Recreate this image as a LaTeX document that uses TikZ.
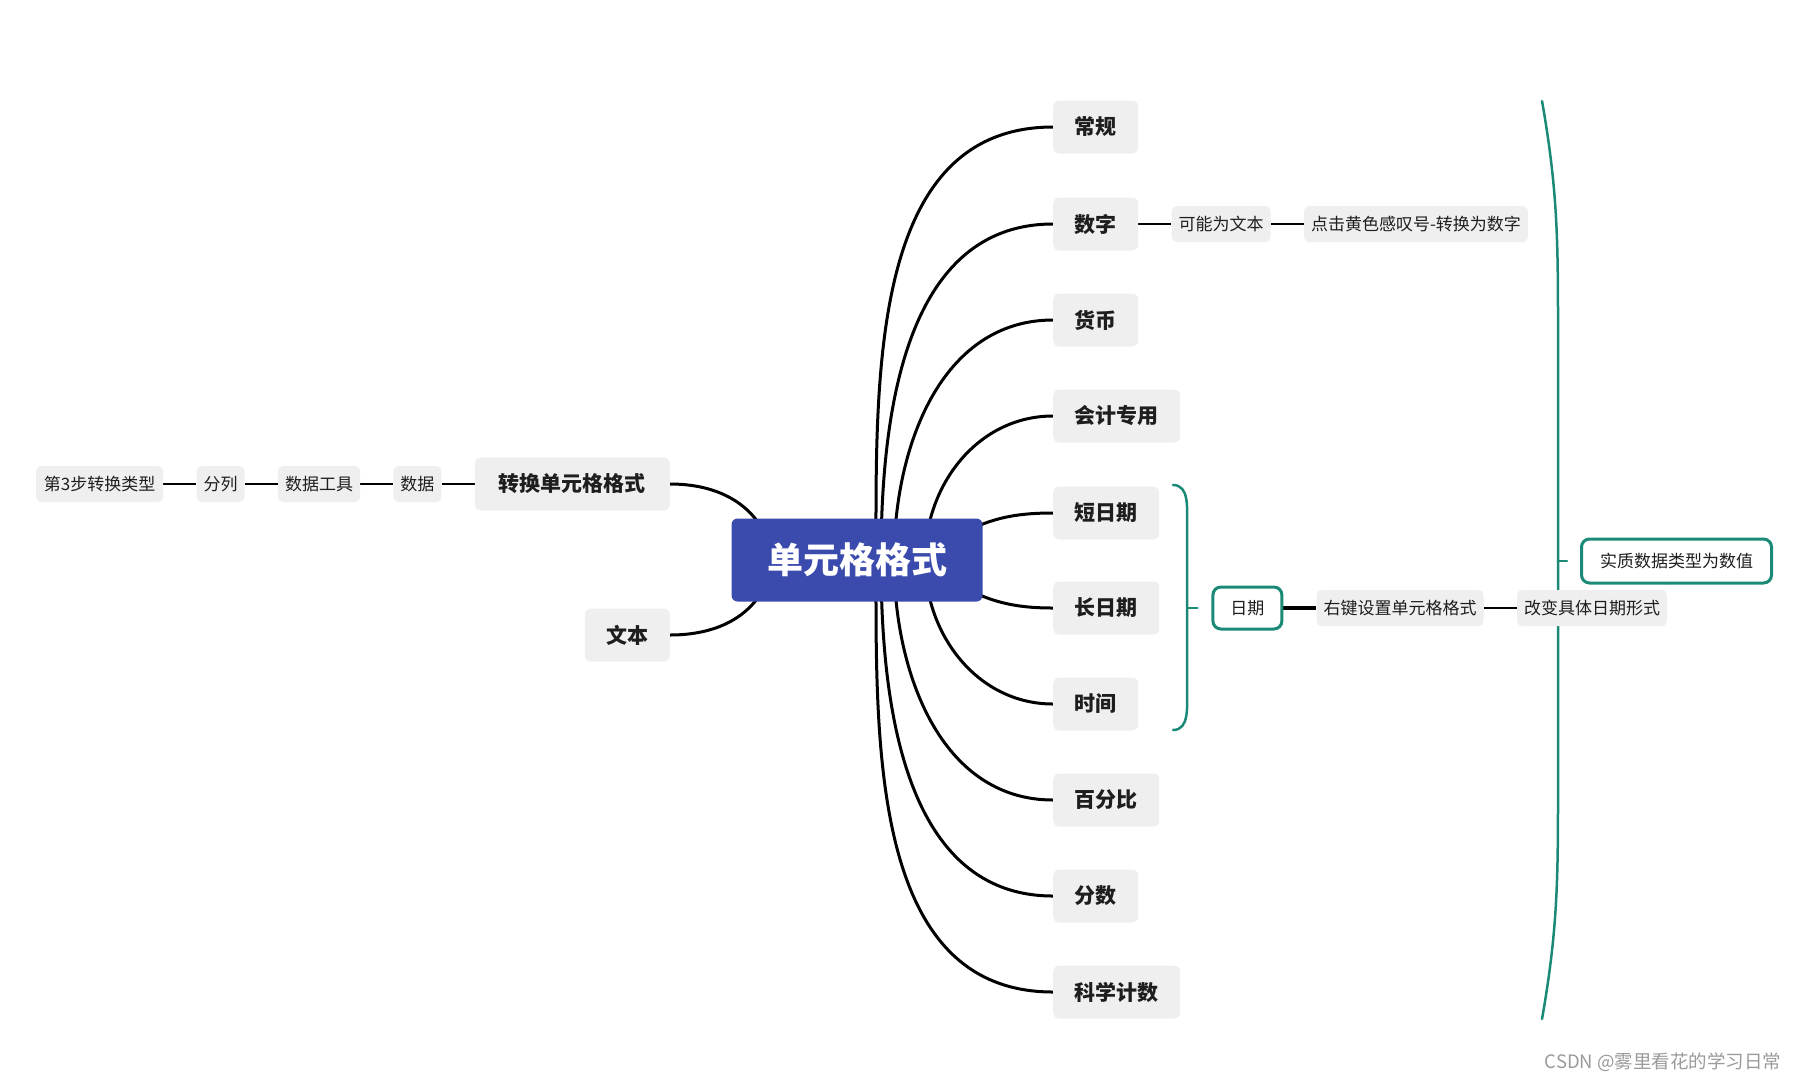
\documentclass[tikz,border=0pt]{standalone}
\usepackage{fontspec}
\setmainfont{Noto Sans CJK SC}
\usetikzlibrary{positioning,backgrounds}
\definecolor{rootblue}{HTML}{3A4AAD}
\definecolor{boxgray}{HTML}{EFEFF0}
\definecolor{inkdark}{HTML}{1E1E1E}
\definecolor{summteal}{HTML}{1A8A77}
\definecolor{markgray}{HTML}{9A9A9A}

\begin{document}
\begin{tikzpicture}[
  x=1pt, y=-1pt,
  node distance=33pt,
  every node/.style={align=center, text=inkdark},
  root/.style={fill=rootblue, rounded corners=6pt, minimum width=251pt, minimum height=83pt, font=\fontsize{36}{40}\selectfont\bfseries, text=white},
  topic/.style={fill=boxgray, rounded corners=6pt, minimum height=53pt, inner xsep=21.5pt, font=\fontsize{21}{24}\selectfont\bfseries},
  sub/.style={fill=boxgray, rounded corners=5pt, minimum height=36pt, inner xsep=7pt, font=\fontsize{17}{20}\selectfont},
  summ/.style={draw=summteal, line width=3pt, fill=white, rounded corners=8pt, minimum height=42pt, font=\fontsize{17}{20}\selectfont},
  branch/.style={line width=3pt, draw=black},
  link/.style={line width=2.5pt, draw=black},
  brace/.style={line width=2.5pt, draw=summteal, line cap=round}
]
\useasboundingbox (0,0) rectangle (1798,1080);
\node[root] (root) at (857,560) {单元格格式};
% right side
\node[topic, anchor=west] (gen) at (1053,127) {常规};
\node[topic, anchor=west] (num) at (1053,224) {数字};
\node[topic, anchor=west] (cur) at (1053,320) {货币};
\node[topic, anchor=west] (acc) at (1053,416) {会计专用};
\node[topic, anchor=west] (sdate) at (1053,513) {短日期};
\node[topic, anchor=west] (ldate) at (1053,608) {长日期};
\node[topic, anchor=west] (time) at (1053,704) {时间};
\node[topic, anchor=west] (pct) at (1053,800) {百分比};
\node[topic, anchor=west] (frac) at (1053,896) {分数};
\node[topic, anchor=west] (sci) at (1053,992) {科学计数};
\node[sub, right=of num] (maytxt) {可能为文本};
\node[sub, right=of maytxt, minimum width=223pt] (click) {点击黄色感叹号-转换为数字};
\node[summ, minimum width=69pt, right=52pt of ldate] (date) {日期};
\node[sub, right=of date] (rclick) {右键设置单元格格式};
\node[sub, right=of rclick] (change) {改变具体日期形式};
\node[summ, minimum width=190pt, minimum height=44pt, anchor=west] (essence) at (1580,561) {实质数据类型为数值};
% left side
\node[topic, anchor=east, minimum width=195pt] (conv) at (670,484) {转换单元格格式};
\node[topic, anchor=east] (txt) at (670,635) {文本};
\node[sub, left=of conv] (data) {数据};
\node[sub, left=of data] (tool) {数据工具};
\node[sub, left=of tool] (split) {分列};
\node[sub, left=of split, minimum width=127pt] (stepthree) {第3步转换类型};
\node[anchor=east, text=markgray, font=\fontsize{18.5}{22}\selectfont] (mark) at (1785,1062) {CSDN @雾里看花的学习日常};

\coordinate (smallmid) at (1187,608);
\coordinate (bigmid) at (1558,561);

\begin{scope}[on background layer]
% curves out of the root
\draw[branch] ([shift={(19,0)}]root.center) to[out=90,in=180] (gen.west);
\draw[branch] ([shift={(24,0)}]root.center) to[out=90,in=180] (num.west);
\draw[branch] ([shift={(37,0)}]root.center) to[out=90,in=180] (cur.west);
\draw[branch] ([shift={(68,0)}]root.center) to[out=90,in=180] (acc.west);
\draw[branch] ([shift={(93,-20)}]root.center) to[out=30,in=180] (sdate.west);
\draw[branch] ([shift={(93,20)}]root.center) to[out=-30,in=180] (ldate.west);
\draw[branch] ([shift={(68,0)}]root.center) to[out=-90,in=180] (time.west);
\draw[branch] ([shift={(37,0)}]root.center) to[out=-90,in=180] (pct.west);
\draw[branch] ([shift={(24,0)}]root.center) to[out=-90,in=180] (frac.west);
\draw[branch] ([shift={(19,0)}]root.center) to[out=-90,in=180] (sci.west);
\draw[branch] ([shift={(-87,-15)}]root.center) to[out=110,in=0] (conv.east);
\draw[branch] ([shift={(-87,15)}]root.center) to[out=-110,in=0] (txt.east);
% chains
\draw[link] (stepthree) -- (split);
\draw[link] (split) -- (tool);
\draw[link] (tool) -- (data);
\draw[link] (data) -- (conv);
\draw[link] (num) -- (maytxt);
\draw[link] (maytxt) -- (click);
\draw[link, line width=4pt] (date) -- (rclick);
\draw[link] (rclick) -- (change);
% summary brackets
\draw[brace] (1173,485) to[out=0,in=90] (1187,525) -- (1187,690) to[out=-90,in=0] (1173,730);
\draw[brace, shorten >=14pt] (smallmid) -- (date.west);
\draw[brace] (1542,101) to[out=-80,in=90] (1558,330) -- (1558,790) to[out=-90,in=80] (1542,1019);
\draw[brace, shorten >=13pt] (bigmid) -- (essence.west);
\end{scope}
\end{tikzpicture}
\end{document}
